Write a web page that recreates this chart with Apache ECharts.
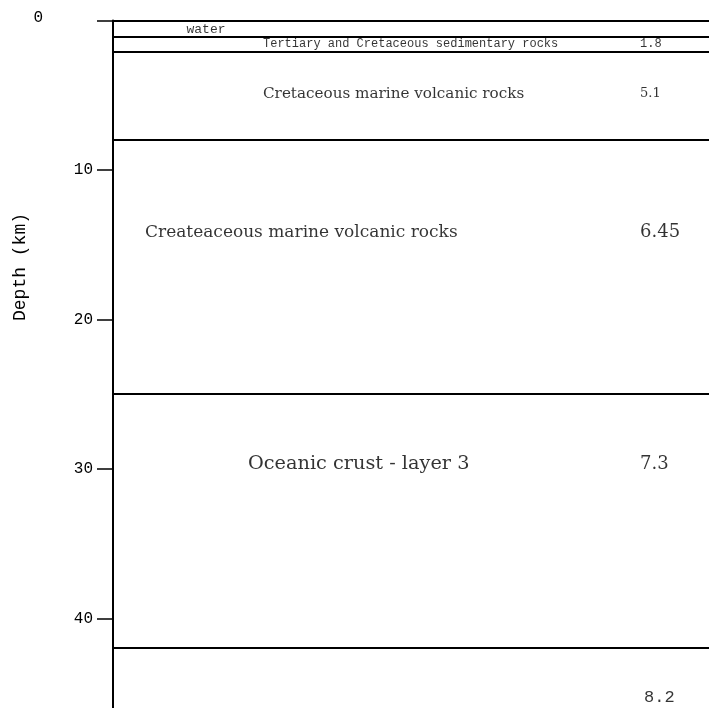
<!DOCTYPE html>
<html>
<head>
<meta charset="utf-8">
<script src="https://cdn.jsdelivr.net/npm/echarts@6/dist/echarts.min.js"></script>
<style>
  html, body { margin: 0; padding: 0; background: #ffffff; }
  #chart { width: 709px; height: 708px; }
</style>
</head>
<body>
<div id="chart"></div>
<script>
// Depth of each layer boundary (km)
const boundaries = [0, 1.1, 2.1, 8, 25, 42];
// Layer names and P-wave velocities (km/s), top to bottom
const layerNames = [
  'water',
  'Tertiary and Cretaceous sedimentary rocks',
  'Cretaceous marine volcanic rocks',
  'Createaceous marine volcanic rocks',
  'Oceanic crust - layer 3',
  ''
];
const velocities = ['', '1.8', '5.1', '6.45', '7.3', '8.2'];
// Depth at which each layer's annotation sits (km)
const labelDepths = [0.62, 1.6, 4.9, 14.2, 29.7, 45.3];
const depthTicks = [0, 10, 20, 30, 40];

// ---- layout / styling ----
const AXIS_X = 113;
const MONO = '"Liberation Mono", "DejaVu Sans Mono", monospace';
const SERIF = '"DejaVu Serif", "Liberation Serif", serif';
const nameLayout = [
  { x: 206, align: 'center', font: MONO, size: 13 },
  { x: 263, align: 'left', font: MONO, size: 12 },
  { x: 263, align: 'left', font: SERIF, size: 15.2 },
  { x: 145, align: 'left', font: SERIF, size: 17 },
  { x: 248, align: 'left', font: SERIF, size: 19.3 },
  { x: 250, align: 'left', font: SERIF, size: 16 }
];
const velLayout = [
  { x: 640, size: 12, font: MONO },
  { x: 640, size: 12, font: MONO },
  { x: 640, size: 13, font: SERIF },
  { x: 640, size: 18, font: SERIF },
  { x: 640, size: 18, font: SERIF },
  { x: 644, size: 17, font: MONO }
];

const chart = echarts.init(document.getElementById('chart'), null, { renderer: 'canvas' });

const nameData = layerNames.map((n, i) => ({
  value: [nameLayout[i].x - AXIS_X, labelDepths[i]],
  name: n,
  label: {
    align: nameLayout[i].align,
    fontFamily: nameLayout[i].font,
    fontSize: nameLayout[i].size,
    color: '#000'
  }
})).filter(d => d.name !== '');

const velData = velocities.map((v, i) => ({
  value: [velLayout[i].x - AXIS_X, labelDepths[i]],
  name: v,
  label: {
    align: 'left',
    fontFamily: velLayout[i].font,
    fontSize: velLayout[i].size,
    color: '#000'
  }
})).filter(d => d.name !== '');

const labelSeries = (data) => ({
  type: 'scatter',
  data: data,
  symbolSize: 0,
  silent: true,
  clip: false,
  label: {
    show: true,
    position: 'inside',
    verticalAlign: 'middle',
    color: '#000',
    formatter: p => p.name
  }
});

chart.setOption({
  animation: false,
  backgroundColor: '#ffffff',
  grid: { left: AXIS_X, right: 0, top: 20.4, bottom: -4, containLabel: false },
  xAxis: {
    type: 'value', min: 0, max: 709 - AXIS_X,
    show: false
  },
  yAxis: {
    type: 'value', inverse: true, min: 0, max: 46, interval: 10,
    splitLine: { show: false },
    axisLine: { show: true, lineStyle: { color: '#000', width: 2 } },
    axisTick: { show: true, length: 16, lineStyle: { color: '#000', width: 1.5 } },
    axisLabel: {
      margin: 20,
      showMaxLabel: false,
      color: '#000',
      fontFamily: MONO,
      fontSize: 16,
      formatter: v => depthTicks.includes(v) ? (v === 0 ? '{z|0}' : String(v)) : '',
      rich: {
        z: { fontFamily: MONO, fontSize: 16, color: '#000', padding: [0, 50, 6, 0] }
      }
    }
  },
  graphic: [{
    type: 'text',
    x: 20, y: 267,
    rotation: Math.PI / 2,
    style: {
      text: 'Depth (km)',
      fill: '#000',
      font: '18px ' + MONO,
      align: 'center',
      verticalAlign: 'middle'
    }
  }],
  series: [
    {
      type: 'line',
      data: [],
      silent: true,
      markLine: {
        silent: true,
        symbol: ['none', 'none'],
        label: { show: false },
        lineStyle: { color: '#000', width: 2, type: 'solid' },
        data: boundaries.map(d => ({ yAxis: d }))
      }
    },
    labelSeries(nameData),
    labelSeries(velData)
  ]
});
</script>
</body>
</html>
